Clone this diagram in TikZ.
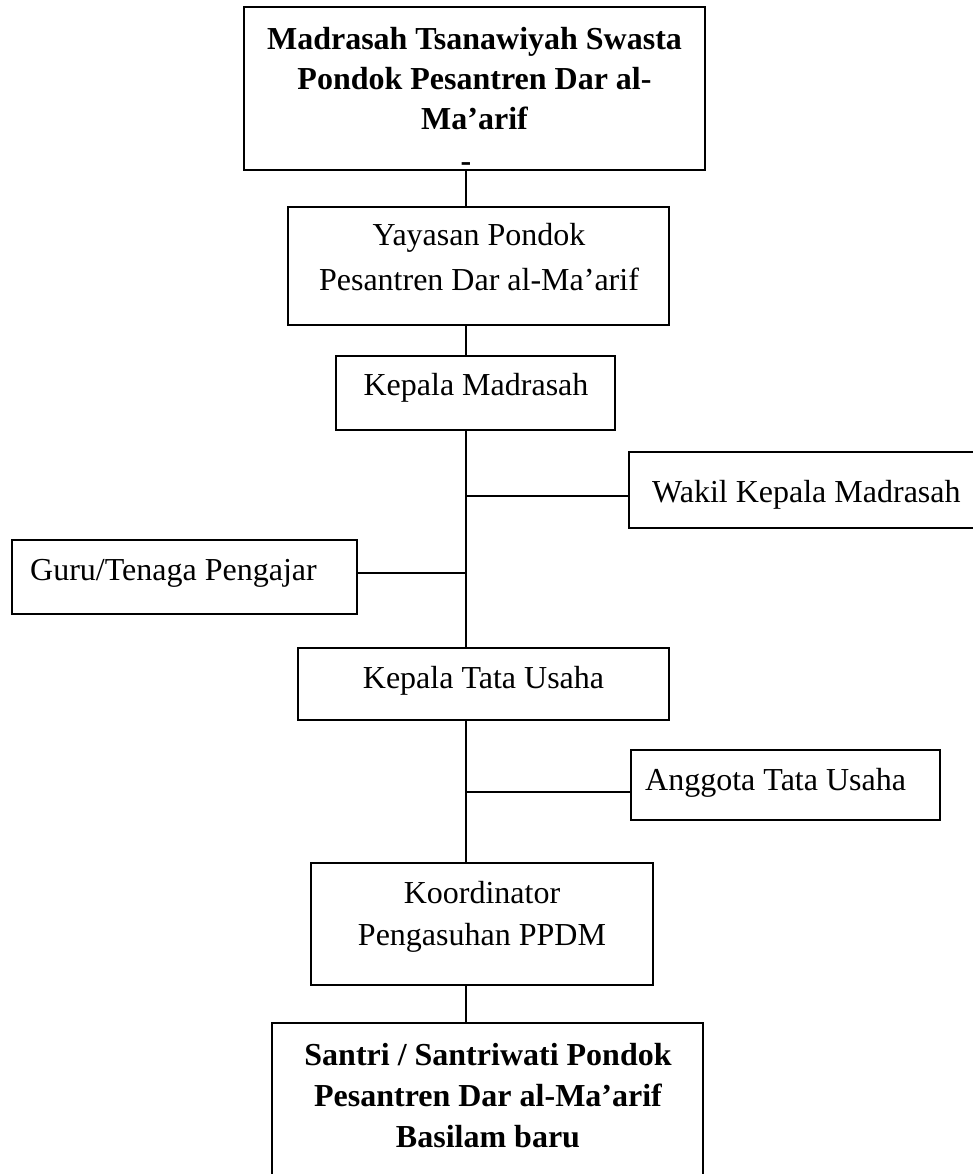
\documentclass[tikz,border=0pt]{standalone}
\usepackage{fontspec}
\setmainfont{Liberation Serif}
\begin{document}
\begin{tikzpicture}[x=1pt,y=-1pt,
  box/.style={draw=black, line width=1.6pt, rectangle, inner sep=0pt},
  link/.style={draw=black, line width=1.6pt},
  txt/.style={inner sep=0pt, anchor=base, font=\fontsize{32}{40}\selectfont},
  btxt/.style={txt, font=\fontsize{32}{40}\selectfont\bfseries},
  ltxt/.style={txt, anchor=base west}]
\useasboundingbox (0,0) rectangle (973,1174);
% boxes (centre, size)
\node[box, minimum width=461, minimum height=163] (top) at (474.5,88.5) {};
\node[box, minimum width=381, minimum height=118] (yay) at (478.5,266) {};
\node[box, minimum width=279, minimum height=74] (kep) at (475.5,393) {};
\node[box, minimum width=347, minimum height=76] (wak) at (802.5,490) {};
\node[box, minimum width=345, minimum height=74] (guru) at (184.5,577) {};
\node[box, minimum width=371, minimum height=72] (ktu) at (483.5,684) {};
\node[box, minimum width=309, minimum height=70] (ang) at (785.5,785) {};
\node[box, minimum width=342, minimum height=122] (koo) at (482,924) {};
\node[box, minimum width=431, minimum height=162] (san) at (487.5,1104) {};
% spine and junctions
\coordinate (sp) at (466,0);
\coordinate (j1) at (466,496);
\coordinate (j2) at (466,573);
\coordinate (j3) at (466,792);
% texts
\node[btxt] (t1) at (474.5,50) {Madrasah Tsanawiyah Swasta};
\node[btxt] (t2) at (474.5,90) {Pondok Pesantren Dar al-};
\node[btxt] (t3) at (474.5,130) {Ma’arif};
\node[btxt] (t4) at (466,172) {-};
\node[txt] (y1) at (479,246) {Yayasan Pondok};
\node[txt] (y2) at (479,290) {Pesantren Dar al-Ma’arif};
\node[txt] (k1) at (476,395) {Kepala Madrasah};
\node[ltxt] (w1) at (652,502) {Wakil Kepala Madrasah};
\node[ltxt] (g1) at (30,580) {Guru/Tenaga Pengajar};
\node[txt] (u1) at (483.5,688) {Kepala Tata Usaha};
\node[ltxt] (a1) at (645,790) {Anggota Tata Usaha};
\node[txt] (c1) at (482,903) {Koordinator};
\node[txt] (c2) at (482,945) {Pengasuhan PPDM};
\node[btxt] (s1) at (488,1065) {Santri / Santriwati Pondok};
\node[btxt] (s2) at (488,1106) {Pesantren Dar al-Ma’arif};
\node[btxt] (s3) at (488,1147) {Basilam baru};
% connectors
\draw[link] (top.south -| sp) -- (yay.north -| sp);
\draw[link] (yay.south -| sp) -- (kep.north -| sp);
\draw[link] (kep.south -| sp) -- (ktu.north -| sp);
\draw[link] (j1) -- (j1 -| wak.west);
\draw[link] (j2) -- (j2 -| guru.east);
\draw[link] (ktu.south -| sp) -- (koo.north -| sp);
\draw[link] (j3) -- (j3 -| ang.west);
\draw[link] (koo.south -| sp) -- (san.north -| sp);
\end{tikzpicture}
\end{document}
